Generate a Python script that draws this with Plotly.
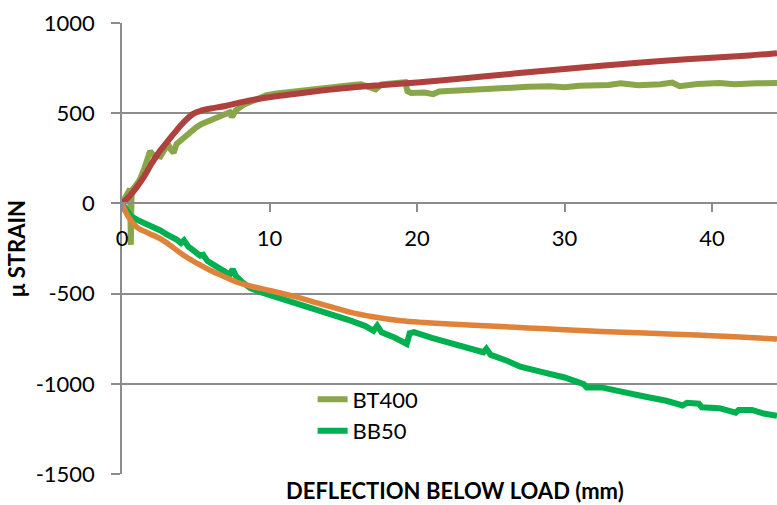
import plotly.graph_objects as go

# Measured strain, gauge BT400 (deflection mm, micro-strain)
bt400_x = [0, 0.2, 0.4, 0.55, 0.6, 0.65, 0.9, 1.2, 1.5, 1.7, 1.9, 2.1, 2.3, 2.6, 2.9, 3.1, 3.3,
           3.5, 3.7, 4.0, 4.3, 4.6, 5.0, 5.4, 5.8, 6.2, 6.6, 7.0, 7.3, 7.45, 7.7, 8.2, 8.7, 9.2,
           9.8, 10.5, 11.5, 12.5, 13.5, 14.5, 15.5, 16.2, 17.2, 17.6, 18.5, 19.2, 19.35, 19.6,
           20.5, 21.1, 21.5, 23, 24.5, 26, 27.5, 29, 30, 31, 33, 33.8, 35, 36.5, 37.3, 37.8, 39,
           40.5, 41.5, 43, 44.4]
bt400_y = [0, 30, 55, 80, -230, 70, 95, 130, 190, 240, 290, 270, 265, 260, 300, 330, 300,
           280, 330, 350, 370, 400, 420, 440, 455, 470, 480, 495, 505, 479, 515, 545, 565, 585,
           600, 610, 620, 632, 640, 648, 655, 660, 632, 660, 668, 672, 622, 612,
           615, 606, 620, 628, 636, 642, 646, 650, 644, 652, 656, 666, 655, 660, 670, 650, 662,
           668, 660, 666, 667]

# Measured strain, gauge BB50
bb50_x = [0, 0.3, 0.6, 1.0, 1.3, 1.6, 2.0, 2.3, 2.6, 3.0, 3.3, 3.7, 4.0, 4.2, 4.5, 5.0, 5.3,
          5.5, 5.8, 6.3, 6.8, 7.3, 7.5, 7.7, 8.2, 8.7, 9.5, 10.5, 11.5, 12.3, 13.5, 14.5, 15.5,
          16.5, 17.05, 17.3, 17.6, 18.5, 19.3, 19.5, 19.8, 21, 22.5, 24.5, 24.7, 25.0, 26.1,
          27, 28.5, 30, 31.3, 31.5, 32.5, 34, 35.5, 36.9, 38.0, 38.3, 39.1, 39.3, 40.5, 41.6,
          41.8, 42.7, 43.5, 44.4]
bb50_y = [0, -40, -70, -90, -100, -110, -125, -140, -150, -170, -180, -200, -220, -205, -240,
          -275, -290, -285, -320, -345, -370, -395, -365, -400, -440, -470, -495, -520, -545,
          -570, -600, -625, -650, -680, -706, -678, -715, -745, -779, -720, -713, -745, -780,
          -825, -806, -840, -872, -905, -935, -965, -1002, -1020, -1020, -1050, -1072, -1094,
          -1120, -1105, -1110, -1130, -1135, -1160, -1145, -1145, -1165, -1178]

# Predicted strain, top and bottom
pred_top_x = [0, 0.5, 1.0, 1.5, 2.0, 2.6, 3.2, 3.7, 4.3, 4.85, 5.4, 6.0, 7.0, 8.2, 9.5, 11,
              12.75, 15, 17.5, 20, 22.5, 25, 27.5, 30, 32.5, 35, 37.5, 40, 42.5, 44.4]
pred_top_y = [0, 40, 90, 150, 220, 294, 355, 405, 460, 498, 515, 526, 540, 563, 583, 600,
              618, 638, 655, 670, 688, 707, 727, 745, 763, 780, 795, 808, 820, 832]
pred_bot_x = [0, 0.4, 1.0, 1.8, 2.6, 3.4, 4.2, 5.1, 6.0, 6.9, 7.8, 8.9, 10, 11.4, 12.75, 14,
              15.5, 17, 18.9, 20.5, 22.2, 25, 27.5, 30, 32.5, 35, 37.5, 40, 42.5, 44.4]
pred_bot_y = [0, -70, -131, -165, -196, -240, -289, -333, -372, -405, -437, -462, -483, -510,
              -540, -570, -604, -628, -650, -660, -668, -680, -690, -700, -710, -717, -725,
              -733, -743, -752]

x_range = [0, 44.4]
y_range = [-1500, 1000]
y_ticks = [-1500, -1000, -500, 0, 500, 1000]
y_tick_labels = ["-1500", "-1000", "-500", "0", "500", "1000"]
x_ticks = [0, 10, 20, 30, 40]

FONT = "Lato"
GRID = "#8c8c8c"

fig = go.Figure()
fig.add_trace(go.Scatter(x=bt400_x, y=bt400_y, mode="lines", name="BT400",
                         line=dict(color="#8aa64a", width=6)))
fig.add_trace(go.Scatter(x=bb50_x, y=bb50_y, mode="lines", name="BB50",
                         line=dict(color="#00b050", width=6)))
fig.add_trace(go.Scatter(x=pred_top_x, y=pred_top_y, mode="lines", showlegend=False,
                         line=dict(color="#ae413d", width=6, shape="spline")))
fig.add_trace(go.Scatter(x=pred_bot_x, y=pred_bot_y, mode="lines", showlegend=False,
                         line=dict(color="#df833a", width=5.5, shape="spline")))

fig.update_layout(
    width=777, height=505,
    margin=dict(l=122, r=0, t=23, b=31),
    paper_bgcolor="white", plot_bgcolor="white",
    font=dict(family=FONT, color="black", size=22),
    legend=dict(x=0.291, y=0.212, xanchor="left", yanchor="top",
                bgcolor="rgba(0,0,0,0)", font=dict(family=FONT, size=22),
                tracegroupgap=0),
    xaxis=dict(range=x_range, tickvals=x_ticks, anchor="free", position=0.6,
               showgrid=False, zeroline=False, showline=True, linecolor=GRID,
               linewidth=1.5, ticks="outside", ticklen=8, tickcolor=GRID, tickwidth=1.5,
               ticklabelstandoff=7,
               tickfont=dict(family=FONT, size=22, color="black")),
    yaxis=dict(range=y_range, tickvals=y_ticks, ticktext=y_tick_labels,
               showgrid=True, gridcolor=GRID,
               gridwidth=1.5, zeroline=False, showline=True, linecolor=GRID,
               linewidth=1.5, ticks="outside", ticklen=9, tickcolor=GRID, tickwidth=1.5,
               ticklabelstandoff=12,
               tickfont=dict(family=FONT, size=22, color="black"),
               title=dict(text="<b>μ STRAIN</b>", font=dict(family=FONT, size=22),
                          standoff=4)),
    shapes=[dict(type="rect", xref="paper", yref="paper", x0=0.159, x1=0.562,
                 y0=0.03, y1=0.25, fillcolor="white", line=dict(width=0), layer="between")],
    annotations=[dict(text="<b>DEFLECTION BELOW LOAD (mm)</b>", xref="paper", yref="paper",
                      x=0.508, y=-0.036, xanchor="center", yanchor="middle",
                      showarrow=False, font=dict(family=FONT, size=22, color="black"))],
)

fig.write_html("out.html")
